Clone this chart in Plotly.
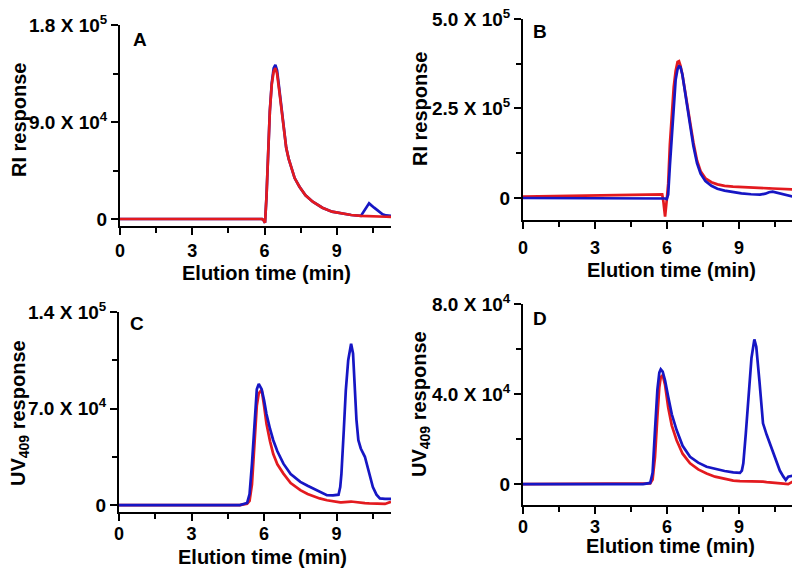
import plotly.graph_objects as go

# Panel A: RI response
tA = [0, 3, 5.9, 5.97, 6.02, 6.08, 6.15, 6.22, 6.3, 6.38, 6.45, 6.52, 6.6, 6.7, 6.8, 6.9, 7.0,
      7.1, 7.25, 7.45, 7.7, 8.0, 8.4, 8.8, 9.2, 9.6, 10.0, 10.15, 10.34, 10.55, 10.75, 10.9, 11.05, 11.25]
blueA = [0, 0, 0, -1500, -3500, 20000, 64000, 100000, 126000, 140000, 143000, 138000, 123000, 105000,
         84000, 66000, 56000, 48000, 38000, 30000, 22000, 16000, 10500, 6800, 5000, 3700, 2900, 7500,
         14500, 10500, 6500, 4300, 3300, 3000]
redA = [0, 0, 0, -1500, -3500, 20000, 64000, 100000, 125000, 137000, 140000, 135000, 121000, 104000,
        84000, 66000, 56000, 48000, 38000, 30000, 22000, 16000, 10500, 6800, 5000, 3700, 2900, 2700,
        2500, 2400, 2300, 2200, 2100, 2000]

# Panel B: RI response
tB = [0, 2, 4, 5.7, 5.8, 5.85, 5.92, 5.99, 6.05, 6.12, 6.2, 6.28, 6.36, 6.44, 6.5, 6.56, 6.64, 6.72,
      6.82, 6.96, 7.1, 7.25, 7.4, 7.6, 7.85, 8.1, 8.4, 8.75, 9.1, 9.5, 9.875, 10.1, 10.25, 10.4, 10.6,
      10.85, 11.05, 11.25]
redB = [3600, 6000, 8500, 11000, 10000, -10000, -52000, -5000, 40000, 150000, 230000, 310000, 355000,
        380000, 382000, 370000, 345000, 310000, 270000, 215000, 155000, 105000, 75000, 55000, 44000,
        38000, 34000, 31500, 30000, 28500, 27500, 27000, 27000, 26500, 26000, 25000, 24500, 24000]
blueB = [0, 0, 0, 0, 0, 0, -1500, -3000, 10000, 90000, 180000, 270000, 330000, 360000, 368000, 366000,
         345000, 310000, 262000, 205000, 145000, 97000, 68000, 47000, 34000, 26000, 20500, 16000, 13000,
         10500, 9200, 12000, 16000, 17600, 14000, 9000, 6000, 3600]

# Panel C: UV409 response
tC = [0, 3, 5.0, 5.3, 5.4, 5.5, 5.6, 5.7, 5.78, 5.9, 6.0, 6.1, 6.25, 6.38, 6.55, 6.8, 7.1, 7.5, 7.8,
      8.05, 8.3, 8.6, 8.85, 9.08, 9.15, 9.2, 9.3, 9.38, 9.48, 9.6, 9.68, 9.75, 9.82, 9.9, 10.0, 10.17,
      10.35, 10.5, 10.65, 10.79, 11.0, 11.25]
blueC = [0, 0, 0, 1500, 8000, 30000, 62000, 84000, 87800, 84000, 76000, 66000, 55000, 47000, 39000,
         30000, 22500, 16800, 14000, 12000, 9500, 7200, 7000, 7500, 13000, 22800, 55000, 83000, 105000,
         117000, 110000, 83000, 62000, 47000, 41000, 35000, 22000, 13000, 7500, 4800, 4500, 4500]
redC = [0, 0, 0, 1000, 3000, 15000, 45000, 72000, 81000, 83500, 72000, 59000, 46000, 37000, 29500,
        22800, 16000, 10800, 8000, 6200, 4800, 3500, 2600, 2000, 2000, 2000, 2200, 2400, 2400, 2500,
        2400, 2200, 2000, 1800, 1600, 1400, 1200, 1200, 1000, 900, 800, 2400]

# Panel D: UV409 response
tD = [0, 3, 5.0, 5.3, 5.4, 5.5, 5.6, 5.68, 5.74, 5.82, 5.92, 6.05, 6.2, 6.4, 6.65, 6.96, 7.3, 7.65,
      8.0, 8.4, 8.76, 9.04, 9.12, 9.18, 9.28, 9.39, 9.52, 9.64, 9.72, 9.85, 10.0, 10.15, 10.29, 10.45,
      10.57, 10.7, 10.85, 10.95, 11.05, 11.25]
blueD = [0, 0, 0, 500, 5000, 24000, 42000, 49500, 51000, 50000, 46000, 38800, 31000, 24000, 17000,
         12100, 9500, 7700, 6700, 5800, 5200, 5000, 6000, 9200, 22000, 38800, 56000, 64300, 61000,
         46000, 27000, 22000, 18000, 13000, 9200, 6000, 3300, 1800, 3300, 3700]
redD = [0, 0, 0, 300, 2000, 12000, 30000, 43000, 47500, 48400, 44000, 34000, 26000, 19500, 13500,
        9200, 6500, 4700, 3300, 2200, 1500, 1300, 1300, 1300, 1300, 1300, 1200, 1200, 1300, 1200,
        1100, 900, 700, 500, 400, 300, 200, 100, 0, 1200]

x_ticks = [0, 3, 6, 9]
y_ticks = {
    "A": ([0, 90000, 180000], ["0", "9.0 X 10<sup>4</sup>", "1.8 X 10<sup>5</sup>"], [45000, 135000]),
    "B": ([0, 250000, 500000], ["0", "2.5 X 10<sup>5</sup>", "5.0 X 10<sup>5</sup>"], [125000, 375000]),
    "C": ([0, 70000, 140000], ["0", "7.0 X 10<sup>4</sup>", "1.4 X 10<sup>5</sup>"], [35000, 105000]),
    "D": ([0, 40000, 80000], ["0", "4.0 X 10<sup>4</sup>", "8.0 X 10<sup>4</sup>"], [20000, 60000]),
}

RED = "#e31a1f"
BLUE = "#1616c4"
FONT = "Liberation Sans, Arial, sans-serif"
W, H = 800, 572
OFF = 8  # page body margin: figure is drawn 8px right/down in the page

# pixel boxes in page coords: (x0, x1, ytop, ybottom)
panels = {
    "A": dict(box=(120, 391, 25, 226), yr=[-6500, 180000], letter=(140, 40), stand=0,
              ytitle="RI response", ypos=(19, 120), xpos=(266, 273)),
    "B": dict(box=(523, 793, 19, 220), yr=[-61500, 500000], letter=(540, 31), stand=3,
              ytitle="RI response", ypos=(420, 109), xpos=(671, 270)),
    "C": dict(box=(119, 391, 312, 512), yr=[-5050, 140000], letter=(137, 323), stand=-3,
              ytitle="UV<sub>409</sub> response", ypos=(19, 413), xpos=(262, 557)),
    "D": dict(box=(523, 793, 304, 505), yr=[-9300, 80000], letter=(540, 318), stand=-3,
              ytitle="UV<sub>409</sub> response", ypos=(420, 404), xpos=(670, 546)),
}

series = {
    "A": [(tA, blueA, BLUE), (tA, redA, RED)],
    "B": [(tB, redB, RED), (tB, blueB, BLUE)],
    "C": [(tC, redC, RED), (tC, blueC, BLUE)],
    "D": [(tD, redD, RED), (tD, blueD, BLUE)],
}


def px(x):
    return (x - OFF) / W


def py(y):
    return 1 - (y - OFF) / H


fig = go.Figure()
layout = dict(width=W, height=H, margin=dict(l=0, r=0, t=0, b=0), showlegend=False,
              plot_bgcolor="white", paper_bgcolor="white", annotations=[])

for i, key in enumerate(["A", "B", "C", "D"], start=1):
    p = panels[key]
    x0, x1, yt, yb = p["box"]
    xa = "xaxis" if i == 1 else f"xaxis{i}"
    ya = "yaxis" if i == 1 else f"yaxis{i}"
    xref = "x" if i == 1 else f"x{i}"
    yref = "y" if i == 1 else f"y{i}"
    for t, v, c in series[key]:
        fig.add_trace(go.Scatter(x=t, y=v, mode="lines", line=dict(color=c, width=2.7),
                                 xaxis=xref, yaxis=yref, hoverinfo="skip"))
    common = dict(showline=True, linecolor="black", linewidth=2, ticks="outside", ticklen=7,
                  tickwidth=2, tickcolor="black", showgrid=False, zeroline=False, automargin=False,
                  ticklabeloverflow="allow")
    layout[xa] = dict(common, domain=[px(x0), px(x1)], range=[0, 11.25], anchor=yref,
                      tickmode="array", tickvals=x_ticks, ticktext=[str(v) for v in x_ticks],
                      ticklabelstandoff=p["stand"],
                      tickfont=dict(family=FONT, size=18, color="black", weight="bold"),
                      minor=dict(tickmode="array", tickvals=[1.5, 4.5, 7.5, 10.5], ticks="outside",
                                 ticklen=5, tickwidth=2, tickcolor="black"))
    tv, tt, mv = y_ticks[key]
    layout[ya] = dict(common, domain=[py(yb), py(yt)], range=p["yr"], anchor=xref,
                      tickmode="array", tickvals=tv, ticktext=tt,
                      tickfont=dict(family=FONT, size=19, color="black", weight="bold"),
                      minor=dict(tickmode="array", tickvals=mv, ticks="outside",
                                 ticklen=5, tickwidth=2, tickcolor="black"))
    ann = layout["annotations"]
    ann.append(dict(text="<b>" + key + "</b>", x=px(p["letter"][0]), y=py(p["letter"][1]),
                    xref="paper", yref="paper", showarrow=False, xanchor="center", yanchor="middle",
                    font=dict(family=FONT, size=19, color="black")))
    ann.append(dict(text="<b>" + p["ytitle"] + "</b>", x=px(p["ypos"][0]), y=py(p["ypos"][1]),
                    xref="paper", yref="paper", showarrow=False, textangle=-90,
                    xanchor="center", yanchor="middle",
                    font=dict(family=FONT, size=20, color="black")))
    ann.append(dict(text="<b>Elution time (min)</b>", x=px(p["xpos"][0]), y=py(p["xpos"][1]),
                    xref="paper", yref="paper", showarrow=False, xanchor="center", yanchor="middle",
                    font=dict(family=FONT, size=20, color="black")))

fig.update_layout(template="none", **layout)
fig.write_html("out.html")
